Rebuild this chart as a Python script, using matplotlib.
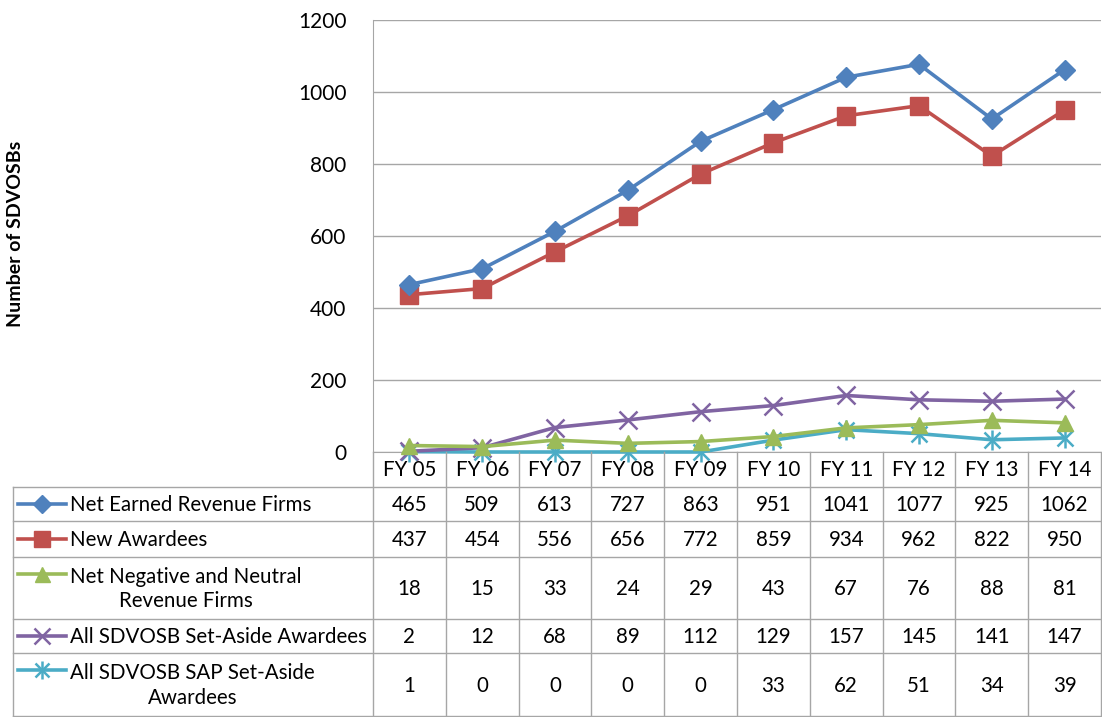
import matplotlib
matplotlib.use("Agg")
import matplotlib.pyplot as plt
import matplotlib.transforms as mtransforms
from matplotlib.lines import Line2D
import numpy as np

plt.rcParams['font.family'] = ['Lato', 'DejaVu Sans']

categories = ["FY 05", "FY 06", "FY 07", "FY 08", "FY 09", "FY 10", "FY 11", "FY 12", "FY 13", "FY 14"]
net_earned = [465, 509, 613, 727, 863, 951, 1041, 1077, 925, 1062]
new_awardees = [437, 454, 556, 656, 772, 859, 934, 962, 822, 950]
net_negative = [18, 15, 33, 24, 29, 43, 67, 76, 88, 81]
set_aside = [2, 12, 68, 89, 112, 129, 157, 145, 141, 147]
sap_set_aside = [1, 0, 0, 0, 0, 33, 62, 51, 34, 39]
series_names = ["Net Earned Revenue Firms", "New Awardees",
                "Net Negative and Neutral\nRevenue Firms",
                "All SDVOSB Set-Aside Awardees",
                "All SDVOSB SAP Set-Aside\nAwardees"]
yticks = [0, 200, 400, 600, 800, 1000, 1200]

series = [net_earned, new_awardees, net_negative, set_aside, sap_set_aside]
colors = ["#4F81BD", "#C0504D", "#9BBB59", "#8064A2", "#4BACC6"]
styles = [dict(marker='D', ms=10), dict(marker='s', ms=12.5), dict(marker='^', ms=12),
          dict(marker='x', ms=12.5, mew=1.8), dict(marker='x', ms=11.5, mew=1.8)]

W, H = 1102, 717
fig = plt.figure(figsize=(W / 100, H / 100), dpi=100)

def fx(px):
    return px / W

def fy(py):
    return 1 - py / H

ax_left, ax_right, ax_top, ax_bot = 373, 1101, 20, 452
ax = fig.add_axes([fx(ax_left), fy(ax_bot), fx(ax_right - ax_left), (ax_bot - ax_top) / H])
x = np.arange(len(categories))
LW = 2.6
for i, (vals, c, st) in enumerate(zip(series, colors, styles)):
    ax.plot(x, vals, color=c, lw=LW, mfc=c, mec=c, zorder=3 + (4 - i) * 0.1, clip_on=False, **st)
    if i == 4:
        ax.plot(x, vals, color=c, lw=0, marker='|', ms=15, mew=1.8, clip_on=False, zorder=3)

ax.set_xlim(-0.5, len(categories) - 0.5)
ax.set_ylim(0, 1200)
ax.set_yticks(yticks)
ax.set_yticklabels([str(t) for t in yticks], fontsize=15, color="#000000")
ax.tick_params(axis='y', length=0, pad=19)
ax.set_xticks([])
ax.grid(axis='y', color="#A6A6A6", lw=1)
ax.set_axisbelow(True)
for s in ['top', 'right']:
    ax.spines[s].set_visible(False)
ax.spines['left'].set_color("#A6A6A6")
ax.spines['bottom'].set_color("#A6A6A6")

fig.text(fx(16), fy(234), "Number of SDVOSBs", rotation=90, fontsize=14,
         fontweight='bold', ha='center', va='center')

# ---- data table ----
trans = mtransforms.blended_transform_factory(ax.transData, fig.transFigure)
grid_c = "#A6A6A6"
row_edges = [452, 487, 521, 557, 619, 653, 716]
table_left = 13
fs = 14.8

for j in range(len(categories) + 1):
    xe = j - 0.5
    fig.add_artist(Line2D([xe, xe], [fy(row_edges[0]), fy(row_edges[-1])], transform=trans,
                          color=grid_c, lw=1))
fig.add_artist(Line2D([fx(table_left), fx(table_left)], [fy(row_edges[1]), fy(row_edges[-1])],
                      transform=fig.transFigure, color=grid_c, lw=1))
for k, ye in enumerate(row_edges):
    if k == 0:
        continue
    fig.add_artist(Line2D([fx(table_left), fx(ax_right + 1)], [fy(ye), fy(ye)],
                          transform=fig.transFigure, color=grid_c, lw=1))

for j, cat in enumerate(categories):
    fig.text(j, fy((row_edges[0] + row_edges[1]) / 2 + 1), cat, transform=trans,
             ha='center', va='center', fontsize=fs)

for r, (vals, name, c, st) in enumerate(zip(series, series_names, colors, styles)):
    top, bot = row_edges[r + 1], row_edges[r + 2]
    yc = (top + bot) / 2
    for j, v in enumerate(vals):
        fig.text(j, fy(yc + 1), str(v), transform=trans, ha='center', va='center', fontsize=fs)
    two = "\n" in name
    ykey = top + 17 if two else yc
    fig.add_artist(Line2D([fx(18), fx(66)], [fy(ykey), fy(ykey)], transform=fig.transFigure,
                          color=c, lw=LW))
    st2 = dict(st)
    st2['ms'] = st2['ms'] * 0.9
    fig.add_artist(Line2D([fx(42)], [fy(ykey)], transform=fig.transFigure, color=c,
                          mfc=c, mec=c, lw=0, **st2))
    if r == 4:
        fig.add_artist(Line2D([fx(42)], [fy(ykey)], transform=fig.transFigure, color=c,
                              lw=0, marker='|', ms=13.5, mew=1.8))
    fig.text(fx(70), fy(yc + 1), name, ha='left', va='center', fontsize=fs,
             multialignment='center', linespacing=1.3)

fig.savefig("out.png", dpi=100)
